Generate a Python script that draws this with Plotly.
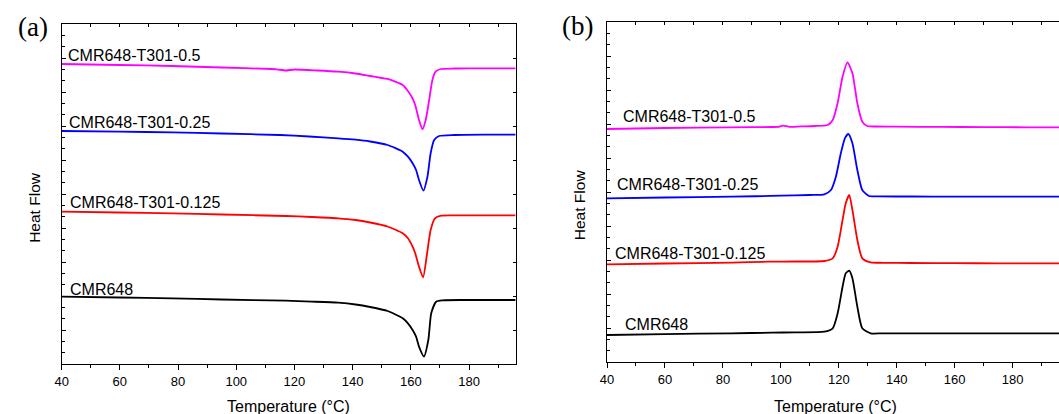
import plotly.graph_objects as go

W, H = 1059, 414

# ---------------- Panel (a): melting (heat flow, arbitrary units) ----------------
a_m_T = [40, 60, 78, 95, 112, 114, 117, 120, 128, 135, 141, 146, 150, 152.6, 155.6, 157.2, 159, 160.5, 161.5, 162.8, 164, 165.1, 166.3, 167.4, 168.5, 170.3, 175, 185, 196]
a_m_Y = [3.00, 2.99, 2.98, 2.965, 2.95, 2.947, 2.935, 2.945, 2.935, 2.923, 2.905, 2.88, 2.86, 2.847, 2.813, 2.79, 2.73, 2.66, 2.59, 2.44, 2.347, 2.44, 2.64, 2.84, 2.923, 2.95, 2.955, 2.957, 2.957]

a_b_T = [40, 60, 78, 95, 115, 125, 135, 141, 146, 152, 157.2, 159, 160.6, 161.8, 162.8, 164.3, 165.7, 166.8, 168, 169.7, 175, 185, 196]
a_b_Y = [2.33, 2.323, 2.317, 2.305, 2.29, 2.275, 2.257, 2.243, 2.225, 2.19, 2.123, 2.073, 2.007, 1.94, 1.84, 1.733, 1.873, 2.107, 2.24, 2.28, 2.29, 2.293, 2.293]

a_r_T = [40, 60, 78, 95, 117, 126, 135, 141, 146, 152, 157.2, 159, 160.6, 161.5, 162.8, 164.2, 165.5, 166.8, 168.3, 170.4, 175, 185, 196]
a_r_Y = [1.523, 1.515, 1.507, 1.495, 1.48, 1.47, 1.457, 1.44, 1.415, 1.375, 1.307, 1.257, 1.173, 1.107, 0.973, 0.867, 1.09, 1.34, 1.457, 1.483, 1.486, 1.487, 1.487]

a_k_T = [40, 60, 78, 95, 117, 126, 135, 141, 146, 152, 157.2, 159, 160.6, 161.8, 162.8, 164.5, 166, 167, 168.7, 171, 178, 187, 196]
a_k_Y = [0.673, 0.665, 0.657, 0.645, 0.633, 0.624, 0.613, 0.595, 0.57, 0.53, 0.457, 0.407, 0.34, 0.273, 0.173, 0.075, 0.24, 0.507, 0.623, 0.637, 0.64, 0.64, 0.64]

# ---------------- Panel (b): crystallization ----------------
b_m_T = [40, 60, 83, 97, 99.1, 100.8, 103, 107, 111.6, 116.2, 117.9, 119.6, 121.3, 123, 124.7, 126.4, 128.1, 129.8, 133, 140, 155, 170, 185, 196]
b_m_Y = [2.33, 2.34, 2.347, 2.35, 2.352, 2.364, 2.352, 2.356, 2.36, 2.37, 2.42, 2.59, 2.853, 2.997, 2.887, 2.587, 2.403, 2.36, 2.355, 2.353, 2.351, 2.349, 2.347, 2.347]

b_b_T = [40, 60, 83, 100, 110, 115, 117.3, 119, 120.7, 122.1, 123.3, 124.7, 126.4, 128.1, 130.4, 134, 145, 160, 175, 196]
b_b_Y = [1.637, 1.645, 1.653, 1.663, 1.67, 1.677, 1.72, 1.853, 2.087, 2.237, 2.28, 2.187, 1.92, 1.72, 1.66, 1.656, 1.655, 1.654, 1.653, 1.653]

b_r_T = [40, 60, 83, 95.5, 105, 115, 117.9, 119.6, 121.3, 122.4, 123.6, 124.7, 126.4, 128.1, 131, 135, 145, 160, 175, 196]
b_r_Y = [0.977, 0.985, 0.993, 1.003, 1.005, 1.01, 1.037, 1.153, 1.42, 1.587, 1.67, 1.52, 1.22, 1.037, 0.997, 0.992, 0.99, 0.988, 0.987, 0.987]

b_k_T = [40, 60, 83, 96.8, 105, 115, 117.9, 119.6, 121.3, 122.4, 123.6, 124.7, 126.4, 128.1, 131, 135, 145, 160, 175, 196]
b_k_Y = [0.27, 0.279, 0.287, 0.293, 0.297, 0.303, 0.337, 0.487, 0.753, 0.887, 0.913, 0.837, 0.553, 0.337, 0.287, 0.287, 0.287, 0.287, 0.287, 0.287]

series_names = ["CMR648-T301-0.5", "CMR648-T301-0.25", "CMR648-T301-0.125", "CMR648"]
colors = ["#FF00FF", "#0000FF", "#FF0000", "#000000"]

x_range = [40, 196]
y_range = [0, 3.40]
x_ticks = [40, 60, 80, 100, 120, 140, 160, 180]

fig = go.Figure()
a_sets = [(a_m_T, a_m_Y), (a_b_T, a_b_Y), (a_r_T, a_r_Y), (a_k_T, a_k_Y)]
b_sets = [(b_m_T, b_m_Y), (b_b_T, b_b_Y), (b_r_T, b_r_Y), (b_k_T, b_k_Y)]
for (t, y), c, n in zip(a_sets, colors, series_names):
    fig.add_trace(go.Scatter(x=t, y=y, mode="lines", name=n, line=dict(color=c, width=1.8, shape="spline", smoothing=0.6),
                             xaxis="x", yaxis="y", showlegend=False))
for (t, y), c, n in zip(b_sets, colors, series_names):
    fig.add_trace(go.Scatter(x=t, y=y, mode="lines", name=n, line=dict(color=c, width=1.8, shape="spline", smoothing=0.6),
                             xaxis="x2", yaxis="y2", showlegend=False))

def px(x):
    return x / W

def py(y):
    return 1 - y / H

tickfont = dict(family="Liberation Sans, Arial", size=13, color="#000")

xa_dom = [px(55), px(512)]
xb_dom = [px(604), 1.0]
ya_dom = [py(364), py(24)]
yb_dom = [py(362), py(22)]

def bottom_axis(dom, anchor):
    return dict(domain=dom, anchor=anchor, range=x_range, tickvals=x_ticks, ticks="outside", ticklen=5,
                tickwidth=1, tickcolor="#000", showline=True, linecolor="#000", linewidth=1.3,
                showgrid=False, zeroline=False, tickfont=tickfont,
                minor=dict(dtick=10, tick0=40, ticks="outside", ticklen=3, tickcolor="#000", showgrid=False))

def top_axis(over, anchor):
    return dict(overlaying=over, anchor=anchor, side="top", range=x_range, tick0=40, dtick=10,
                ticks="inside", ticklen=3, tickcolor="#000", showticklabels=False, showline=True,
                linecolor="#000", linewidth=1, showgrid=False, zeroline=False)

def left_axis(dom, anchor):
    return dict(domain=dom, anchor=anchor, range=y_range, tick0=0, dtick=0.34, ticks="inside", ticklen=4,
                tickcolor="#000", showticklabels=False, showline=True, linecolor="#000", linewidth=1.3,
                showgrid=False, zeroline=False,
                minor=dict(dtick=0.34 / 3, tick0=0, ticks="inside", ticklen=3, tickcolor="#000", showgrid=False))

def right_axis(over, anchor):
    return dict(overlaying=over, anchor=anchor, side="right", range=y_range, tick0=0, dtick=0.34,
                ticks="inside", ticklen=3, tickcolor="#000", showticklabels=False, showline=True,
                linecolor="#000", linewidth=1, showgrid=False, zeroline=False)

fig.update_layout(
    width=W, height=H, margin=dict(l=0, r=0, t=0, b=0),
    paper_bgcolor="white", plot_bgcolor="white",
    xaxis=bottom_axis(xa_dom, "y"),
    yaxis=left_axis(ya_dom, "x"),
    xaxis2=bottom_axis(xb_dom, "y2"),
    yaxis2=left_axis(yb_dom, "x2"),
    xaxis3=top_axis("x", "y"),
    yaxis3=right_axis("y", "x"),
    xaxis4=top_axis("x2", "y2"),
)

# invisible helper traces so overlay axes are drawn
fig.add_trace(go.Scatter(x=[None], y=[None], xaxis="x3", yaxis="y", showlegend=False, hoverinfo="skip"))
fig.add_trace(go.Scatter(x=[None], y=[None], xaxis="x", yaxis="y3", showlegend=False, hoverinfo="skip"))
fig.add_trace(go.Scatter(x=[None], y=[None], xaxis="x4", yaxis="y2", showlegend=False, hoverinfo="skip"))

lab_font = dict(family="Liberation Sans, Arial", size=16, color="#000")
a_label_pos = [(59, 55), (60.5, 122.7), (61, 203), (61, 289.5)]
b_label_pos = [(618.5, 116), (612, 184.3), (610, 253.3), (620, 324)]
for n, (x, y) in zip(series_names, a_label_pos):
    fig.add_annotation(text=n, xref="paper", yref="paper", x=px(x), y=py(y), xanchor="left", yanchor="middle",
                       showarrow=False, font=lab_font)
for n, (x, y) in zip(series_names, b_label_pos):
    fig.add_annotation(text=n, xref="paper", yref="paper", x=px(x), y=py(y), xanchor="left", yanchor="middle",
                       showarrow=False, font=lab_font)

title_font = dict(family="Liberation Sans, Arial", size=16, color="#000")
fig.add_annotation(text="Temperature (°C)", xref="paper", yref="paper", x=px(283.5), y=py(406), xanchor="center",
                   yanchor="middle", showarrow=False, font=title_font)
fig.add_annotation(text="Temperature (°C)", xref="paper", yref="paper", x=px(834), y=py(406), xanchor="center",
                   yanchor="middle", showarrow=False, font=title_font)
fig.add_annotation(text="Heat Flow", xref="paper", yref="paper", x=px(27), y=py(207), xanchor="center",
                   yanchor="middle", textangle=-90, showarrow=False, font=dict(family="Liberation Sans, Arial", size=15.5, color="#000"))
fig.add_annotation(text="Heat Flow", xref="paper", yref="paper", x=px(576), y=py(205), xanchor="center",
                   yanchor="middle", textangle=-90, showarrow=False, font=dict(family="Liberation Sans, Arial", size=15.5, color="#000"))

panel_font = dict(family="Liberation Serif, Times New Roman", size=27, color="#000")
fig.add_annotation(text="(a)", xref="paper", yref="paper", x=px(26), y=py(27), xanchor="center", yanchor="middle",
                   showarrow=False, font=panel_font)
fig.add_annotation(text="(b)", xref="paper", yref="paper", x=px(574), y=py(26), xanchor="center", yanchor="middle",
                   showarrow=False, font=panel_font)

fig.write_html("out.html")
